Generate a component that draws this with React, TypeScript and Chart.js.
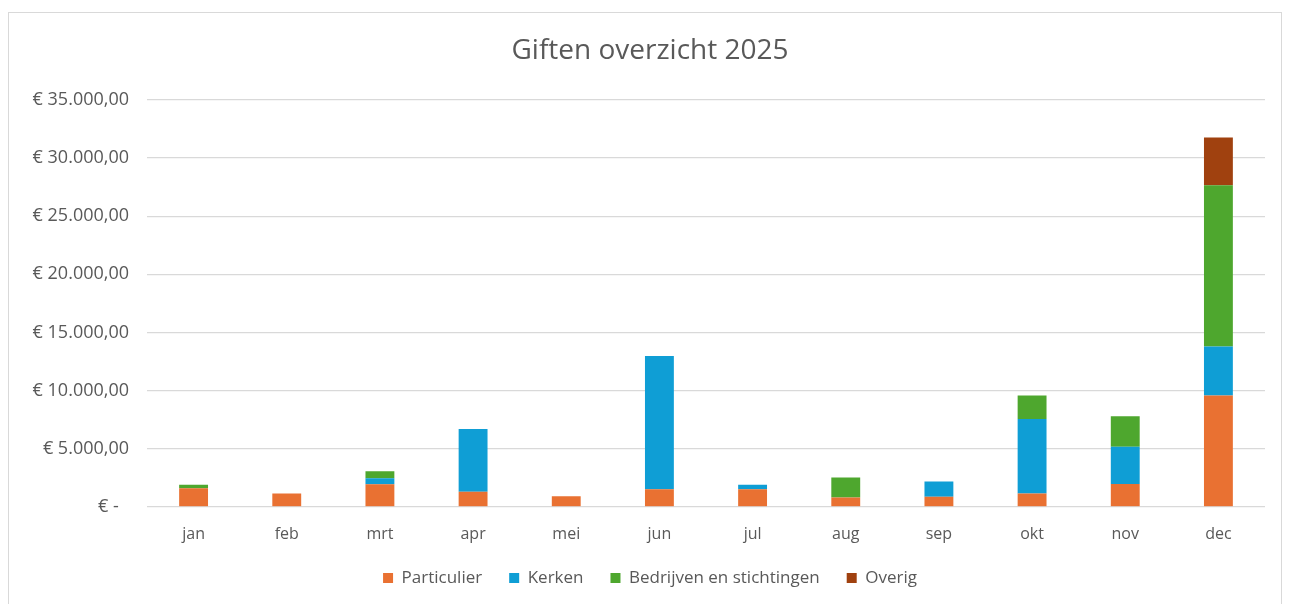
import React, { useEffect, useRef } from "react";
import { Chart, registerables } from "chart.js";

Chart.register(...registerables);

const months = ["jan", "feb", "mrt", "apr", "mei", "jun", "jul", "aug", "sep", "okt", "nov", "dec"];
const particulier = [1600, 1150, 1950, 1300, 900, 1520, 1520, 800, 860, 1150, 1960, 9570];
const kerken = [0, 0, 500, 5400, 0, 11450, 380, 0, 1320, 6410, 3210, 4220];
const bedrijven = [300, 0, 600, 0, 0, 0, 0, 1730, 0, 2010, 2610, 13880];
const overig = [0, 0, 0, 0, 0, 0, 0, 0, 0, 0, 0, 4110];

const FONT = "'Open Sans', Lato, sans-serif";
const TEXT = "#595959";
const LEGEND_FONT = 17;
const LEGEND_PAD = 27;
const LEGEND_OFFSET = 16; // distance from legend box top to item centre
const H_SHIFT = 13; // horizontal offset of title and legend

function euro(v: number): string {
  if (v === 0) return "€ -\u2007";
  const fixed = v.toFixed(2);
  const [intPart, dec] = fixed.split(".");
  const withDots = intPart.replace(/\B(?=(\d{3})+(?!\d))/g, ".");
  return "€ " + withDots + "," + dec;
}

const boxShift = {
  id: "boxShift",
  afterLayout(chart: any) {
    const lg = chart.legend;
    if (lg) {
      const shift = LEGEND_PAD + LEGEND_FONT / 2 - LEGEND_OFFSET;
      lg.top -= shift;
      lg.bottom -= shift;
      lg.left += H_SHIFT;
      lg.right += H_SHIFT;
    }
    const t = chart.titleBlock;
    if (t) {
      t.left += H_SHIFT;
      t.right += H_SHIFT;
    }
  },
};

export default function App() {
  const ref = useRef<HTMLCanvasElement | null>(null);
  useEffect(() => {
    if (!ref.current) return;
    const chart = new Chart(ref.current, {
      type: "bar",
      data: {
        labels: months,
        datasets: [
          { label: "Particulier", data: particulier, backgroundColor: "#E97132" },
          { label: "Kerken", data: kerken, backgroundColor: "#0F9ED5" },
          { label: "Bedrijven en stichtingen", data: bedrijven, backgroundColor: "#4EA72E" },
          { label: "Overig", data: overig, backgroundColor: "#A0410F" },
        ],
      },
      plugins: [boxShift],
      options: {
        animation: false,
        responsive: false,
        maintainAspectRatio: false,
        datasets: { bar: { barPercentage: 0.31, categoryPercentage: 1 } },
        layout: { padding: { left: 0, right: 16, top: 0, bottom: 3 } },
        plugins: {
          title: {
            display: true,
            text: "Giften overzicht 2025",
            color: TEXT,
            font: { family: FONT, size: 28, weight: "normal" },
            padding: { top: 21, bottom: 32.4 },
          },
          legend: {
            position: "bottom",
            labels: {
              boxWidth: 10,
              boxHeight: 10,
              color: TEXT,
              font: { family: FONT, size: LEGEND_FONT },
              padding: LEGEND_PAD,
            },
          },
          tooltip: { enabled: false },
        },
        scales: {
          x: {
            stacked: true,
            grid: { display: false, drawTicks: false },
            border: { display: false },
            ticks: { color: TEXT, font: { family: FONT, size: 16 }, padding: 18 },
          },
          y: {
            stacked: true,
            min: 0,
            max: 35000,
            afterFit: (s: any) => {
              s.width = 138;
            },
            grid: { color: "#d9d9d9", drawTicks: false, lineWidth: 1.3 },
            border: { display: false },
            ticks: {
              stepSize: 5000,
              color: TEXT,
              font: { family: FONT, size: 18 },
              padding: 18,
              callback: (v: any) => euro(Number(v)),
            },
          },
        },
      },
    } as any);
    return () => chart.destroy();
  }, []);
  return (
    <div
      style={{
        width: 1274,
        height: 610,
        marginTop: 4,
        border: "1px solid #d9d9d9",
        boxSizing: "border-box",
        background: "#fff",
      }}
    >
      <canvas ref={ref} width={1272} height={606} style={{ display: "block" }} />
    </div>
  );
}
